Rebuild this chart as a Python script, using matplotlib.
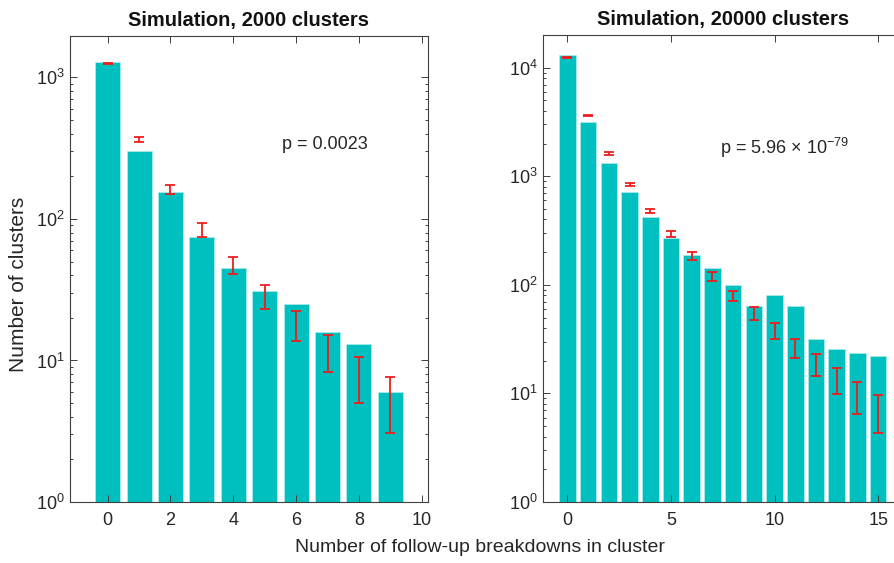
import matplotlib
matplotlib.use("Agg")
import matplotlib.pyplot as plt
import numpy as np

plt.rcParams['font.family'] = ['Liberation Sans', 'DejaVu Sans']
plt.rcParams['mathtext.fontset'] = 'custom'
plt.rcParams['mathtext.rm'] = 'Liberation Sans'
plt.rcParams['mathtext.it'] = 'Liberation Sans:italic'
plt.rcParams['mathtext.bf'] = 'Liberation Sans:bold'

# Left panel: 2000 clusters
x_left = [0, 1, 2, 3, 4, 5, 6, 7, 8, 9]
counts_left = [1280, 302, 156, 74, 45, 31, 25, 16, 13, 6]
err_lo_left = [1240, 348, 150, 74, 40.6, 23.2, 13.8, 8.3, 5.0, 3.06]
err_hi_left = [1265, 382, 173, 93, 54.2, 34.2, 22.4, 15.1, 10.6, 7.65]

# Right panel: 20000 clusters
x_right = list(range(16))
counts_right = [13090, 3177, 1331, 720, 418, 271, 187, 142, 99.4, 64, 80.4, 64,
                31.6, 25.7, 23.6, 21.9]
err_lo_right = [12350, 3580, 1560, 813, 461, 277, 169, 108, 70.3, 47.6, 31.6, 21.4,
                14.6, 9.84, 6.43, 4.36]
err_hi_right = [12600, 3700, 1670, 865, 501, 311, 199, 132, 88, 62.7, 44.4, 31.8,
                23.3, 17.1, 12.7, 9.69]

bar_color = '#00BFBF'
axis_color = '#404040'
text_color = '#262626'

fig = plt.figure(figsize=(8.95, 5.63), dpi=100)
W, H = 895, 563

def add_ax(x0, x1, y0, y1):
    return fig.add_axes([x0 / W, 1 - y1 / H, (x1 - x0) / W, (y1 - y0) / H])

axL = add_ax(70, 428, 36, 502)
axR = add_ax(543, 903, 35, 502)

def draw(ax, x, c, lo, hi, xlim, ylim, xticks, title):
    x = np.array(x); c = np.array(c); lo = np.array(lo); hi = np.array(hi)
    ax.bar(x, c, width=0.8, color=bar_color, edgecolor='#a8ecec', linewidth=0.6, bottom=0)
    mid = np.sqrt(lo * hi)
    ax.errorbar(x, mid, yerr=[mid - lo, hi - mid], fmt='none', ecolor='#ee1c1c',
                elinewidth=1.3, capsize=3.5, capthick=1.3)
    ax.set_yscale('log')
    ax.set_xlim(*xlim)
    ax.set_ylim(*ylim)
    ax.set_xticks(xticks)
    ax.tick_params(axis='both', which='both', direction='in', top=True, right=True,
                   colors=axis_color, labelcolor=text_color, labelsize=13, width=0.7)
    ax.tick_params(axis='both', which='major', length=5)
    ax.tick_params(axis='both', which='minor', length=2.5)
    ax.tick_params(axis='x', pad=7)
    ax.tick_params(axis='y', pad=4)
    for s in ax.spines.values():
        s.set_color(axis_color)
        s.set_linewidth(0.8)
    ax.set_title(title, fontsize=14.5, fontweight='bold', color='#111111', pad=7)

draw(axL, x_left, counts_left, err_lo_left, err_hi_left, (-1.2, 10.2), (1, 1960),
     [0, 2, 4, 6, 8, 10], 'Simulation, 2000 clusters')
draw(axR, x_right, counts_right, err_lo_right, err_hi_right, (-1.18, 16.2), (1, 20000),
     [0, 5, 10, 15], 'Simulation, 20000 clusters')

axL.text(5.55, 333, 'p = 0.0023', fontsize=13, color=text_color, va='center')
axR.text(7.35, 1820, r'p = 5.96 $\times$ 10$^{\mathregular{-79}}$', fontsize=13,
         color=text_color, va='center')

fig.text(19 / W, 1 - 284 / H, 'Number of clusters', rotation=90, fontsize=15,
         color=text_color, ha='center', va='center')
fig.text(480 / W, 1 - 548 / H, 'Number of follow-up breakdowns in cluster', fontsize=14,
         color=text_color, ha='center', va='center')

fig.savefig('out.png', dpi=100)
